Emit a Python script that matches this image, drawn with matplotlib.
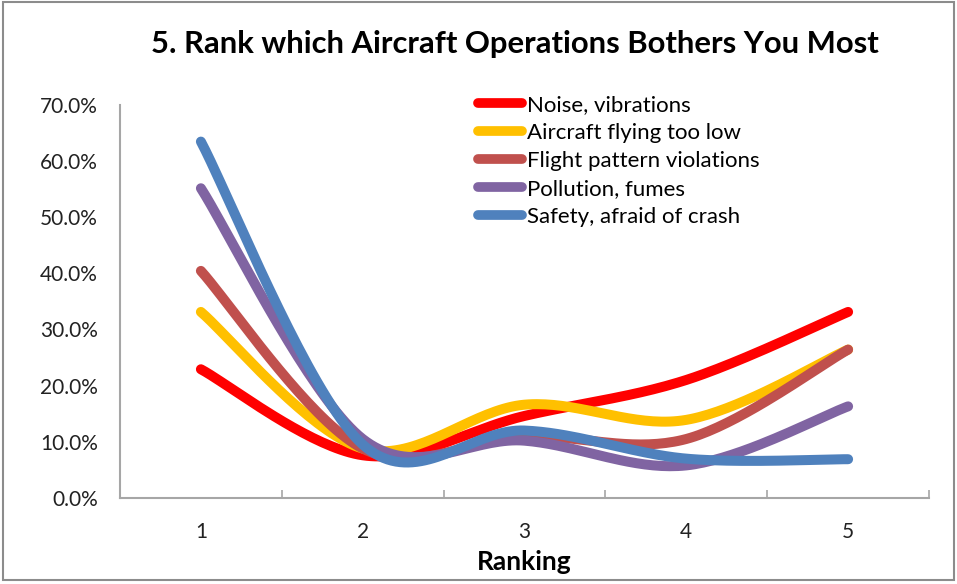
import numpy as np
import matplotlib
matplotlib.use('Agg')
import matplotlib.pyplot as plt
from matplotlib.patches import Rectangle
from matplotlib.ticker import PercentFormatter

# Data (share of respondents per rank)
rankings = [1, 2, 3, 4, 5]
noise = [22.9, 7.6, 14.6, 21.0, 33.1]
too_low = [33.1, 8.8, 16.6, 13.9, 26.4]
pattern = [40.4, 8.8, 11.0, 10.5, 26.4]
pollution = [55.1, 10.5, 10.2, 5.8, 16.3]
safety = [63.4, 9.5, 12.0, 7.0, 6.9]

series_names = ['Noise, vibrations', 'Aircraft flying too low', 'Flight pattern violations',
                'Pollution, fumes', 'Safety, afraid of crash']
series_vals = [noise, too_low, pattern, pollution, safety]
colors = ['#FF0000', '#FFC000', '#C0504D', '#8064A2', '#4F81BD']


def smooth(x, y, n=40):
    # Excel-style smoothed line: cubic Bezier with Catmull-Rom control points
    x = np.asarray(x, float)
    y = np.asarray(y, float)
    px = np.concatenate([[x[0]], x, [x[-1]]])
    py = np.concatenate([[y[0]], y, [y[-1]]])
    t = np.linspace(0, 1, n)
    xs, ys = [], []
    for i in range(len(x) - 1):
        p0 = np.array([px[i + 1], py[i + 1]])
        p3 = np.array([px[i + 2], py[i + 2]])
        p1 = p0 + (p3 - np.array([px[i], py[i]])) / 6
        p2 = p3 - (np.array([px[i + 3], py[i + 3]]) - p0) / 6
        b = ((1 - t) ** 3)[:, None] * p0 + (3 * (1 - t) ** 2 * t)[:, None] * p1 \
            + (3 * (1 - t) * t ** 2)[:, None] * p2 + (t ** 3)[:, None] * p3
        xs.append(b[:, 0])
        ys.append(b[:, 1])
    return np.concatenate(xs), np.concatenate(ys)


font = ['Lato', 'DejaVu Sans']
plt.rcParams['font.family'] = font

fig = plt.figure(figsize=(9.57, 5.84), dpi=100)
ax = fig.add_axes([120 / 957, 1 - 498 / 584, (929 - 120) / 957, (498 - 104.5) / 584])

for name, vals, c in zip(series_names, series_vals, colors):
    sx, sy = smooth(rankings, vals)
    ax.plot(sx, sy, color=c, lw=7.2, solid_capstyle='round', label=name)

ax.set_xlim(0.5, 5.5)
ax.set_ylim(0, 70)
ax.set_yticks(np.arange(0, 71, 10))
ax.yaxis.set_major_formatter(PercentFormatter(decimals=1))
ax.set_xticks(rankings)
ax.set_xticks(np.arange(0.5, 5.6, 1), minor=True)
ax.tick_params(axis='x', which='major', length=0, pad=17, labelsize=15, colors='#222222')
ax.tick_params(axis='x', which='minor', direction='in', length=6, color='#A6A6A6', width=1.2)
ax.tick_params(axis='y', length=0, pad=16, labelsize=15, labelcolor='#222222')

for s in ['top', 'right']:
    ax.spines[s].set_visible(False)
for s in ['left', 'bottom']:
    ax.spines[s].set_color('#A6A6A6')
    ax.spines[s].set_linewidth(1.5)

ax.set_xlabel('Ranking', fontsize=19, fontweight='bold', labelpad=6)

fig.text(515 / 957, 1 - 44 / 584, '5. Rank which Aircraft Operations Bothers You Most',
         ha='center', va='center', fontsize=22.3, fontweight='bold')

leg = ax.legend(loc='upper left', bbox_to_anchor=(478 / 957, 1 - 95 / 584),
                bbox_transform=fig.transFigure, frameon=False, borderpad=0,
                fontsize=16, handlelength=2.0, handletextpad=0.2, labelspacing=0.36,
                borderaxespad=0)
for h in leg.get_lines():
    h.set_linewidth(7)
    h.set_solid_capstyle('round')

fig.add_artist(Rectangle((3 / 957, 1 - 580 / 584), 951 / 957, 578 / 584,
                         transform=fig.transFigure, fill=False,
                         edgecolor='#8C8C8C', lw=1.5))

fig.savefig('out.png', dpi=100)
